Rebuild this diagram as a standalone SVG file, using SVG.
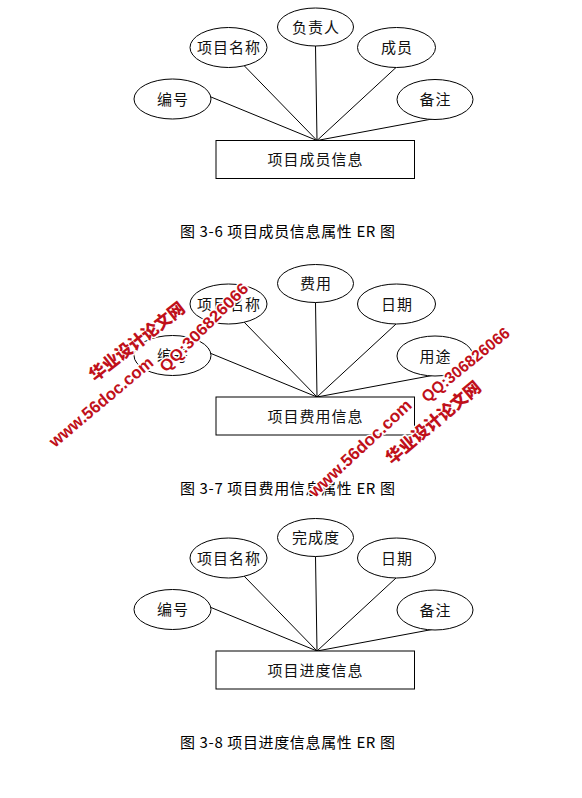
<svg xmlns="http://www.w3.org/2000/svg" width="582" height="798" viewBox="0 0 582 798">
<style>
.bg{fill:#ffffff}
.e{fill:#ffffff;stroke:#000;stroke-width:1}
.r{fill:#ffffff;stroke:#000;stroke-width:1}
.c{stroke:#000;stroke-width:1;fill:none}
.t{font-family:"Noto Sans CJK SC","Noto Sans",sans-serif;font-size:15px;fill:#111;text-anchor:middle;letter-spacing:1px}
.cap{font-family:"Noto Sans CJK SC","Liberation Mono",monospace;font-size:15px;fill:#000}
.wm{font-family:"Liberation Sans","Noto Sans CJK SC",sans-serif;fill:#c0101a;stroke:#ffffff;stroke-width:3px;paint-order:stroke;stroke-linejoin:round;font-weight:bold}
.wmc{font-family:"Noto Sans CJK SC",sans-serif;font-weight:900}
</style>
<rect class="bg" x="0" y="0" width="582" height="798"/>

<!-- Diagram 1 -->
<g id="diagram1">
  <g id="d1-connectors">
    <line class="c" x1="211" y1="97" x2="317" y2="140.5"/>
    <line class="c" x1="244" y1="65.5" x2="317" y2="140.5"/>
    <line class="c" x1="315.5" y1="46" x2="317" y2="140.5"/>
    <line class="c" x1="396" y1="67.5" x2="317" y2="140.5"/>
    <line class="c" x1="432" y1="119" x2="317" y2="140.5"/>
  </g>
  <g id="d1-bianhao"><ellipse class="e" cx="172.5" cy="99" rx="38.5" ry="20"/><text class="t" x="173" y="104.5">编号</text></g>
  <g id="d1-xiangmumingcheng"><ellipse class="e" cx="228.5" cy="47.5" rx="38.5" ry="20"/><text class="t" x="229" y="53">项目名称</text></g>
  <g id="d1-fuzeren"><ellipse class="e" cx="315.5" cy="27" rx="38" ry="19"/><text class="t" x="316" y="32.5">负责人</text></g>
  <g id="d1-chengyuan"><ellipse class="e" cx="396.5" cy="47.5" rx="39" ry="20"/><text class="t" x="397" y="53">成员</text></g>
  <g id="d1-beizhu"><ellipse class="e" cx="435" cy="99.5" rx="38" ry="20"/><text class="t" x="435.5" y="105">备注</text></g>
  <g id="d1-entity"><rect class="r" x="216" y="140.5" width="198.5" height="38"/><text class="t" x="315.5" y="165">项目成员信息</text></g>
  <text class="cap" x="180" y="237" textLength="215" lengthAdjust="spacing">图 3-6 项目成员信息属性 ER 图</text>
</g>

<!-- Diagram 2 -->
<g id="diagram2" transform="translate(0,256.5)">
  <g id="d2-connectors">
    <line class="c" x1="211" y1="97" x2="317" y2="140.5"/>
    <line class="c" x1="244" y1="65.5" x2="317" y2="140.5"/>
    <line class="c" x1="315.5" y1="46" x2="317" y2="140.5"/>
    <line class="c" x1="396" y1="67.5" x2="317" y2="140.5"/>
    <line class="c" x1="432" y1="119" x2="317" y2="140.5"/>
  </g>
  <g id="d2-bianhao"><ellipse class="e" cx="172.5" cy="99" rx="38.5" ry="20"/><text class="t" x="173" y="104.5">编号</text></g>
  <g id="d2-xiangmumingcheng"><ellipse class="e" cx="228.5" cy="47.5" rx="38.5" ry="20"/><text class="t" x="229" y="53">项目名称</text></g>
  <g id="d2-feiyong"><ellipse class="e" cx="315.5" cy="27" rx="38" ry="19"/><text class="t" x="316" y="32.5">费用</text></g>
  <g id="d2-riqi"><ellipse class="e" cx="396.5" cy="47.5" rx="39" ry="20"/><text class="t" x="397" y="53">日期</text></g>
  <g id="d2-yongtu"><ellipse class="e" cx="435" cy="99.5" rx="38" ry="20"/><text class="t" x="435.5" y="105">用途</text></g>
  <g id="d2-entity"><rect class="r" x="216" y="140.5" width="198.5" height="38"/><text class="t" x="315.5" y="165">项目费用信息</text></g>
  <text class="cap" x="180" y="237" textLength="215" lengthAdjust="spacing">图 3-7 项目费用信息属性 ER 图</text>
</g>

<!-- Diagram 3 -->
<g id="diagram3" transform="translate(0,510.5)">
  <g id="d3-connectors">
    <line class="c" x1="211" y1="97" x2="317" y2="140.5"/>
    <line class="c" x1="244" y1="65.5" x2="317" y2="140.5"/>
    <line class="c" x1="315.5" y1="46" x2="317" y2="140.5"/>
    <line class="c" x1="396" y1="67.5" x2="317" y2="140.5"/>
    <line class="c" x1="432" y1="119" x2="317" y2="140.5"/>
  </g>
  <g id="d3-bianhao"><ellipse class="e" cx="172.5" cy="99" rx="38.5" ry="20"/><text class="t" x="173" y="104.5">编号</text></g>
  <g id="d3-xiangmumingcheng"><ellipse class="e" cx="228.5" cy="47.5" rx="38.5" ry="20"/><text class="t" x="229" y="53">项目名称</text></g>
  <g id="d3-wanchengdu"><ellipse class="e" cx="315.5" cy="27" rx="38" ry="19"/><text class="t" x="316" y="32.5">完成度</text></g>
  <g id="d3-riqi"><ellipse class="e" cx="396.5" cy="47.5" rx="39" ry="20"/><text class="t" x="397" y="53">日期</text></g>
  <g id="d3-beizhu"><ellipse class="e" cx="435" cy="99.5" rx="38" ry="20"/><text class="t" x="435.5" y="105">备注</text></g>
  <g id="d3-entity"><rect class="r" x="216" y="140.5" width="198.5" height="38"/><text class="t" x="315.5" y="165">项目进度信息</text></g>
  <text class="cap" x="180" y="237" textLength="215" lengthAdjust="spacing">图 3-8 项目进度信息属性 ER 图</text>
</g>

<!-- Watermark -->
<g id="watermark">
  <text class="wm wmc" font-size="17" transform="translate(95,382) rotate(-38)" textLength="116" lengthAdjust="spacingAndGlyphs">华业设计论文网</text>
  <text class="wm" font-size="17" transform="translate(55,448) rotate(-40)" textLength="130" lengthAdjust="spacingAndGlyphs">www.56doc.com</text>
  <text class="wm" font-size="16" transform="translate(166,373) rotate(-45)" textLength="118" lengthAdjust="spacingAndGlyphs">QQ:306826066</text>
  <text class="wm" font-size="16" transform="translate(427,403) rotate(-39)" textLength="108" lengthAdjust="spacingAndGlyphs">QQ:306826066</text>
  <text class="wm wmc" font-size="17" transform="translate(392,465) rotate(-40)" textLength="118" lengthAdjust="spacingAndGlyphs">华业设计论文网</text>
  <text class="wm" font-size="17" transform="translate(315,498) rotate(-43)" textLength="134" lengthAdjust="spacingAndGlyphs">www.56doc.com</text>
</g>
</svg>
